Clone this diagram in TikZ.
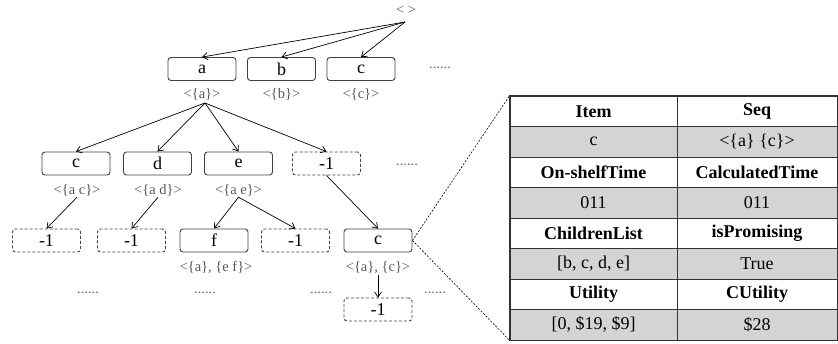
\documentclass[tikz,border=0pt]{standalone}
\usepackage{fontspec}
\setmainfont{Liberation Serif}
\usetikzlibrary{arrows.meta}
\begin{document}
\begin{tikzpicture}[x=1pt,y=-1pt,
  tbox/.style={draw=black!75,line width=0.9pt,rounded corners=3pt,minimum width=68pt,minimum height=23pt,inner sep=0pt,font=\fontsize{18}{20}\selectfont},
  dbox/.style={tbox,dash pattern=on 3pt off 2pt},
  slab/.style={inner sep=1pt,text=black!65,font=\fontsize{14.5}{16}\selectfont},
  dots/.style={anchor=base,inner sep=0pt,text=black!60,font=\fontsize{14.5}{16}\selectfont},
  arr/.style={-{Straight Barb[length=5pt,width=7pt]},line width=0.7pt},
  cell/.style={draw=black!80,line width=0.8pt,minimum width=#1,minimum height=30.5pt,inner sep=0pt,font=\fontsize{18}{20}\selectfont},
  hcell/.style={cell=#1,font=\fontsize{18}{20}\selectfont\bfseries},
  gcell/.style={cell=#1,fill=black!17},
  zoomline/.style={line width=0.6pt,dash pattern=on 2pt off 1.5pt}
]
\useasboundingbox (0,0) rectangle (838,343);
% root
\node[slab,inner sep=0pt] (root) at (406,10) {< >};
\coordinate (rt) at (405,22);
% level 1
\node[tbox] (a) at (202,69) {a};
\node[tbox] (b) at (281.5,69) {b};
\node[tbox] (c) at (361,69) {c};
\node[slab] (al) at (202,94) {<\{a\}>};
\node[slab] (bl) at (281.5,94) {<\{b\}>};
\node[slab] (cl) at (361,94) {<\{c\}>};
\node[dots] (d1) at (440,68) {......};
\draw[arr] (rt) -- (a.north);
\draw[arr] (rt) -- (b.north);
\draw[arr] (rt) -- (c.north);
% level 2
\node[tbox] (ac) at (76,163.5) {c};
\node[tbox] (ad) at (157.5,163.5) {d};
\node[tbox] (ae) at (238.5,163.5) {e};
\node[dbox] (an) at (326.5,163.5) {-1};
\node[slab] (acl) at (77,190) {<\{a c\}>};
\node[slab] (adl) at (158,190) {<\{a d\}>};
\node[slab] (ael) at (238.5,190) {<\{a e\}>};
\node[dots] (d2) at (407,165) {......};
\coordinate (ab) at (205,103);
\draw[arr] (ab) -- (ac.north);
\draw[arr] (ab) -- (ad.north);
\draw[arr] (ab) -- (ae.north);
\draw[arr] (ab) -- (an.north);
% level 3
\node[dbox] (acn) at (46.5,240.5) {-1};
\node[dbox] (adn) at (131.5,240.5) {-1};
\node[tbox] (aef) at (214,240.5) {f};
\node[dbox] (aen) at (295.5,240.5) {-1};
\node[tbox] (acc) at (378,240.5) {c};
\node[slab] (aefl) at (216,268) {<\{a\}, \{e f\}>};
\node[slab] (accl) at (378,268) {<\{a\}, \{c\}>};
\node[dbox] (accn) at (378,309.5) {-1};
\node[dots] at (88,293) {......};
\node[dots] at (205,293) {......};
\node[dots] at (321,293) {......};
\node[dots] at (435,293) {......};
\draw[arr] (acl.south) -- (acn.north);
\draw[arr] (adl.south) -- (adn.north);
\draw[arr] (ael.south) -- (aef.north);
\draw[arr] (ael.south) -- (aen.north);
\draw[arr] (an.south) -- (acc.north);
\draw[arr] (accl.south) -- (accn.north);
% table
\node[hcell=167pt] (t11) at (593.5,111.25) {Item};
\node[hcell=160pt] (t12) at (757,111.25) {Seq};
\node[gcell=167pt] (t21) at (593.5,141.75) {c};
\node[gcell=160pt] (t22) at (757,141.75) {<\{a\} \{c\}>};
\node[hcell=167pt] (t31) at (593.5,172.25) {On-shelfTime};
\node[hcell=160pt] (t32) at (757,172.25) {CalculatedTime};
\node[gcell=167pt] (t41) at (593.5,202.75) {011};
\node[gcell=160pt] (t42) at (757,202.75) {011};
\node[hcell=167pt] (t51) at (593.5,233.25) {ChildrenList};
\node[hcell=160pt] (t52) at (757,233.25) {isPromising};
\node[gcell=167pt] (t61) at (593.5,263.75) {[b, c, d, e]};
\node[gcell=160pt] (t62) at (757,263.75) {True};
\node[hcell=167pt] (t71) at (593.5,294.25) {Utility};
\node[hcell=160pt] (t72) at (757,294.25) {CUtility};
\node[gcell=167pt] (t81) at (593.5,324.75) {[0, \$19, \$9]};
\node[gcell=160pt] (t82) at (757,324.75) {\$28};
\draw[line width=1.2pt,black!80] (t11.north west) rectangle (t82.south east);
\draw[zoomline] (acc.east) -- (t11.north west);
\draw[zoomline] (acc.east) -- (t81.south west);
\end{tikzpicture}
\end{document}
